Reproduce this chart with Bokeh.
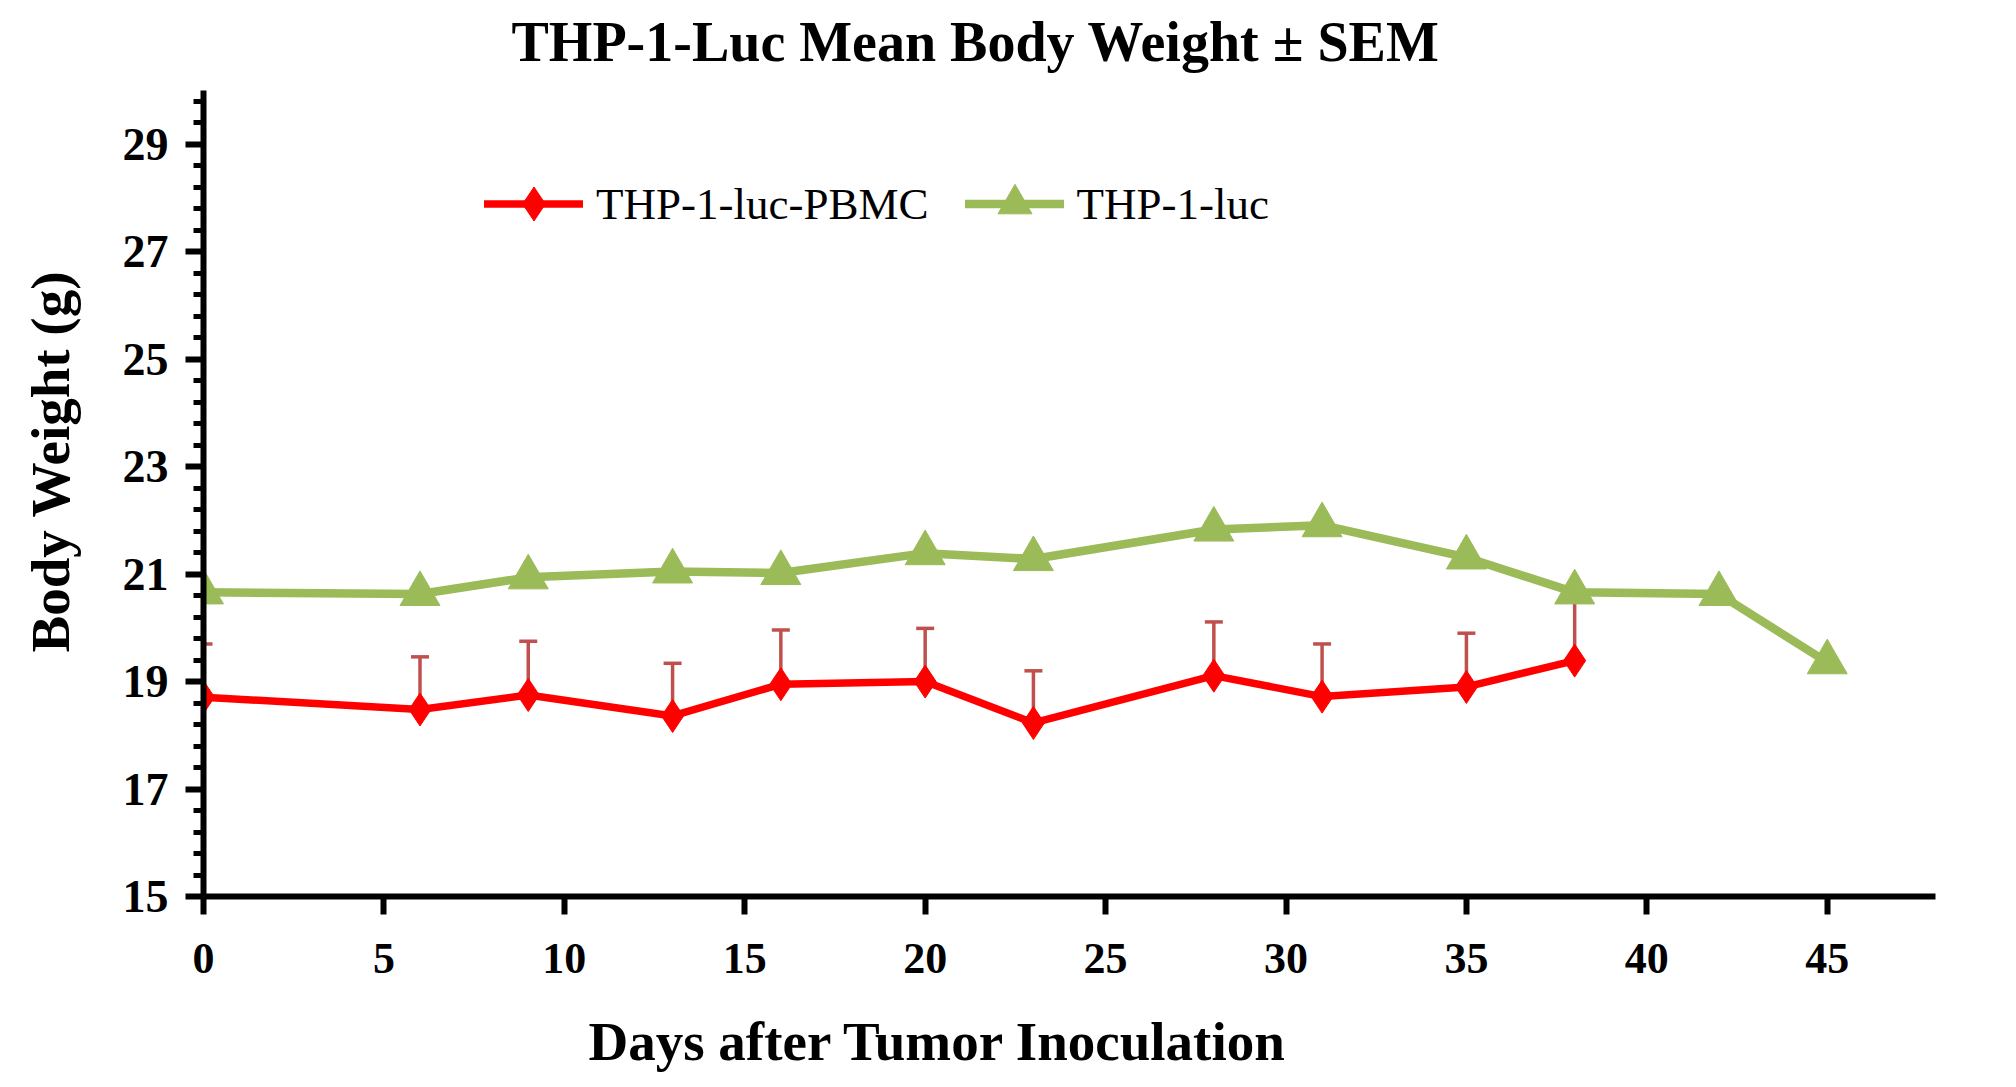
from bokeh.plotting import figure
from bokeh.embed import file_html
from bokeh.resources import INLINE
from bokeh.models import (ColumnDataSource, FixedTicker, Range1d, Legend, LegendItem,
                          Whisker, TeeHead, Title)

# Body weight data (grams)
days_pbmc = [0, 6, 9, 13, 16, 20, 23, 28, 31, 35, 38]
mean_pbmc = [18.71, 18.48, 18.75, 18.36, 18.95, 19.00, 18.23, 19.11, 18.72, 18.90, 19.39]
sem_pbmc = [0.99, 0.98, 1.00, 0.98, 1.01, 0.99, 0.97, 1.00, 0.98, 1.00, 1.15]

days_luc = [0, 6, 9, 13, 16, 20, 23, 28, 31, 35, 38, 42, 45]
mean_luc = [20.66, 20.63, 20.94, 21.05, 21.02, 21.39, 21.28, 21.83, 21.91, 21.31, 20.66, 20.63, 19.36]

x_ticks = [0, 5, 10, 15, 20, 25, 30, 35, 40, 45]
y_ticks = [15, 17, 19, 21, 23, 25, 27, 29]
y_minor = [15.4, 15.8, 16.2, 16.6, 17.4, 17.8, 18.2, 18.6, 19.4, 19.8, 20.2, 20.6,
           21.4, 21.8, 22.2, 22.6, 23.4, 23.8, 24.2, 24.6, 25.4, 25.8, 26.2, 26.6,
           27.4, 27.8, 28.2, 28.6, 29.4, 29.8]

RED = "#ff0000"
GREEN = "#9bbb59"
ERR = "#c0504d"
FONT = "Liberation Serif"

src_pbmc = ColumnDataSource(dict(
    x=days_pbmc, y=mean_pbmc,
    upper=[m + s for m, s in zip(mean_pbmc, sem_pbmc)],
))
src_luc = ColumnDataSource(dict(x=days_luc, y=mean_luc))

p = figure(
    width=2000, height=1075,
    x_range=Range1d(0, 48), y_range=Range1d(15, 30),
    toolbar_location=None, tools="", title_location=None,
    min_border_left=203, min_border_right=65,
    min_border_top=90, min_border_bottom=179,
    output_backend="svg",
)
p.outline_line_color = None
p.xgrid.grid_line_color = None
p.ygrid.grid_line_color = None

# axes
p.xaxis.ticker = FixedTicker(ticks=x_ticks)
p.yaxis.ticker = FixedTicker(ticks=y_ticks, minor_ticks=y_minor)
for ax in (p.xaxis, p.yaxis):
    ax.axis_line_width = 6
    ax.axis_line_color = "black"
    ax.major_tick_line_width = 6
    ax.major_tick_in = 0
    ax.major_tick_out = 18
    ax.major_label_text_font = FONT
    ax.major_label_text_font_style = "bold"
    ax.major_label_text_color = "black"
p.xaxis.minor_tick_line_color = None
p.xaxis.major_label_text_font_size = "44px"
p.xaxis.major_label_standoff = 29
p.yaxis.minor_tick_line_width = 5
p.yaxis.minor_tick_in = 0
p.yaxis.minor_tick_out = 10
p.yaxis.major_label_text_font_size = "46px"
p.yaxis.major_label_standoff = 17


def spacer(gap):
    # empty side panel used to push a title further out from the frame
    return Title(text=" ", text_font_size="2px", standoff=gap)


def side_title(text, size, offset):
    return Title(text=text, align="left", offset=offset, vertical_align="top",
                 standoff=0, text_font=FONT, text_font_style="bold",
                 text_font_size=size, text_color="black")


# chart title and axis titles, sitting off-centre like the original
p.add_layout(spacer(12), "above")
p.add_layout(side_title("THP-1-Luc Mean Body Weight \u00b1 SEM", "56px", 308), "above")
p.add_layout(spacer(31), "below")
p.add_layout(side_title("Days after Tumor Inoculation", "55px", 385), "below")
p.add_layout(spacer(33), "left")
p.add_layout(side_title("Body Weight (g)", "55px", 244), "left")

# error bars (upper only)
err = Whisker(source=src_pbmc, base="x", upper="upper", lower="y",
              line_color=ERR, line_width=3.5,
              upper_head=TeeHead(size=18, line_color=ERR, line_width=3.5),
              lower_head=None)
p.add_layout(err)

# series
g_line = p.line("x", "y", source=src_luc, line_color=GREEN, line_width=8.5,
                line_join="round", line_cap="round")
g_pts = p.scatter("x", "y", source=src_luc, marker="triangle", size=40,
                  fill_color=GREEN, line_color=GREEN)
r_line = p.line("x", "y", source=src_pbmc, line_color=RED, line_width=7.5,
                line_join="round", line_cap="round")
r_pts = p.scatter("x", "y", source=src_pbmc, marker="diamond", size=33,
                  fill_color=RED, line_color=RED)

legend = Legend(
    items=[LegendItem(label="THP-1-luc-PBMC", renderers=[r_line, r_pts]),
           LegendItem(label="THP-1-luc", renderers=[g_line, g_pts])],
    location=(281, 650), orientation="horizontal",
    glyph_width=99, glyph_height=85, label_standoff=13, spacing=36,
    padding=0, margin=0, border_line_color=None, background_fill_alpha=0,
    label_text_font=FONT, label_text_font_size="45px", label_text_color="black",
)
p.add_layout(legend)

open("out.html", "w").write(file_html(p, INLINE))
